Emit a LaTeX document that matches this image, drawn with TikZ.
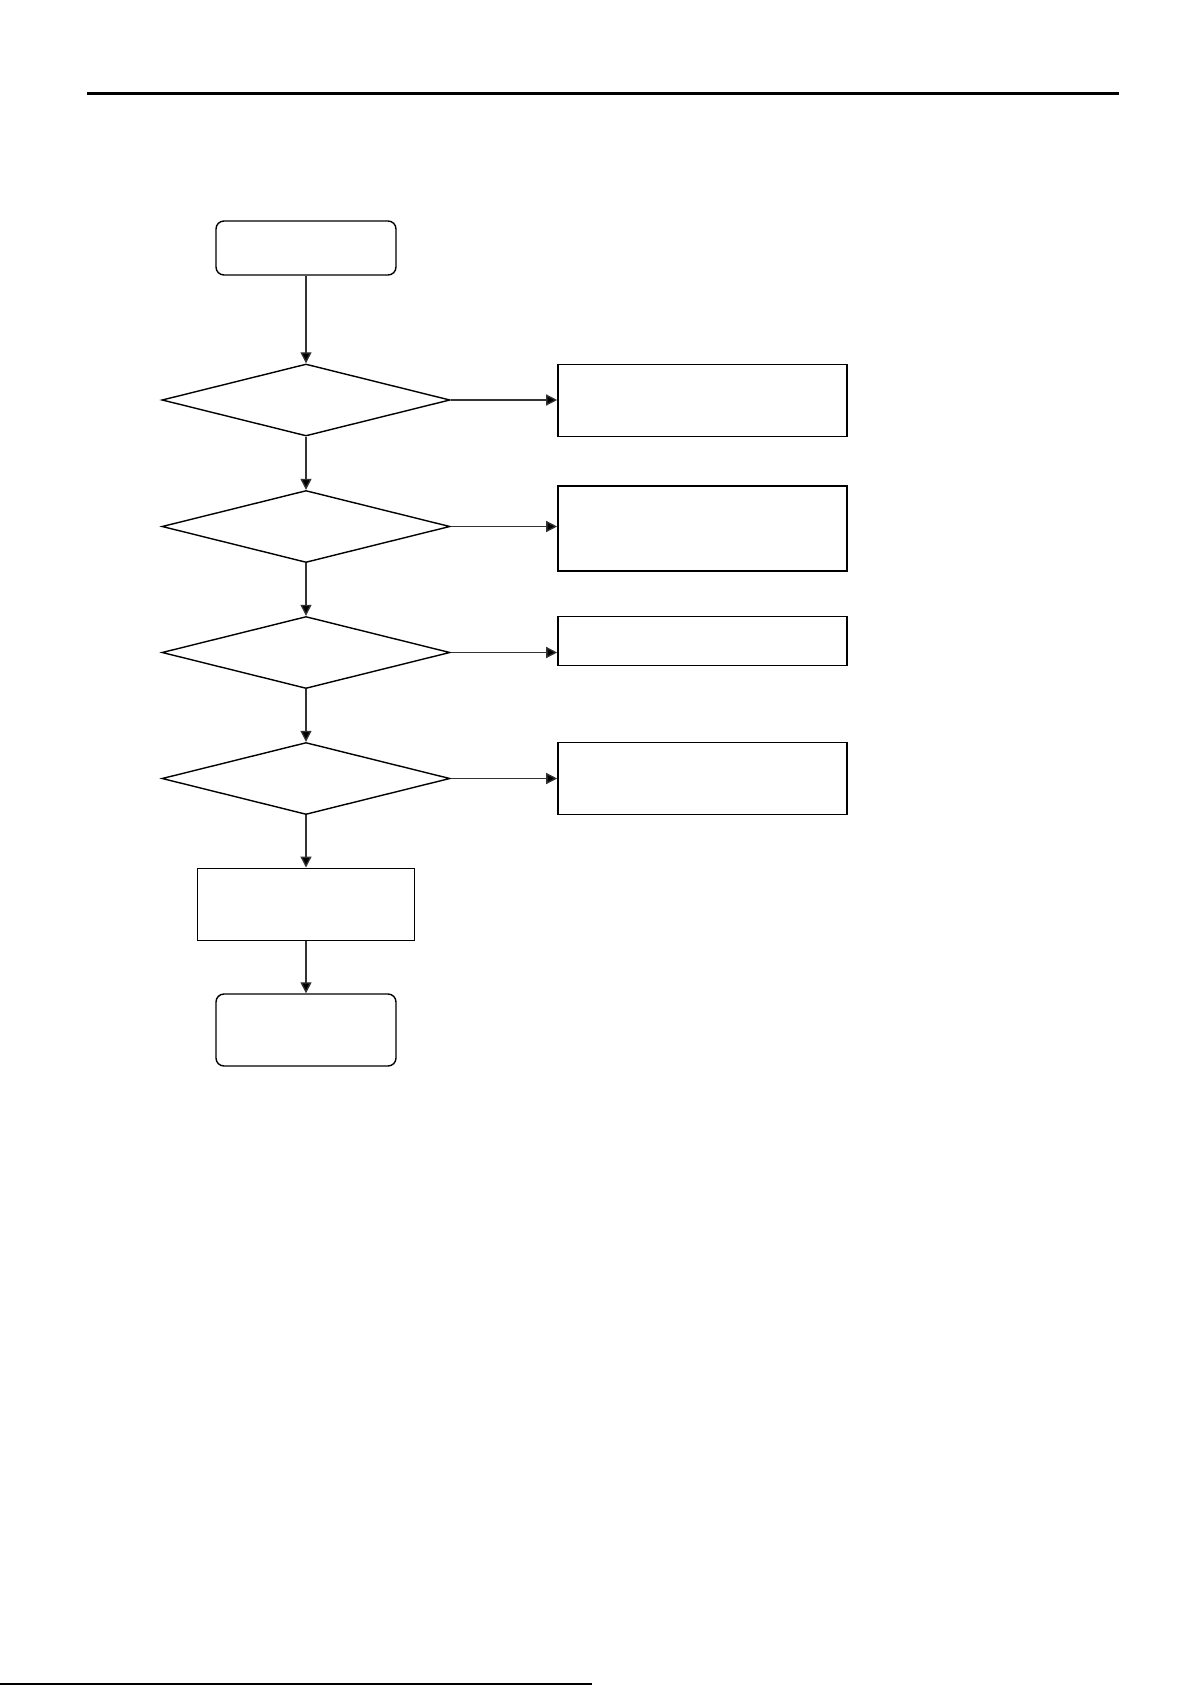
\documentclass[tikz,border=0pt]{standalone}
\usetikzlibrary{shapes.geometric,arrows.meta}
\begin{document}
\begin{tikzpicture}[x=1pt,y=-1pt,
  term/.style={draw=black,line width=1.4pt,rounded corners=8pt,minimum width=180pt,minimum height=54pt,inner sep=0pt},
  procbox/.style={draw=black,line width=1.6pt,minimum width=289pt,inner sep=0pt},
  decision/.style={draw=black,line width=1.4pt,shape=diamond,aspect=4,minimum width=288pt,minimum height=72pt,inner sep=0pt},
  conn/.style={draw=black!80,line width=1.3pt,-{Triangle[length=11pt,width=11pt,fill=black]}}]
\useasboundingbox (0,0) rectangle (1191,1685);
\fill[white] (0,0) rectangle (1191,1685);
\coordinate (ruleL) at (87,93.5);
\coordinate (ruleR) at (1119,93.5);
\draw[line width=3pt] (ruleL) -- (ruleR);
\coordinate (botL) at (0,1683.5);
\coordinate (botR) at (592,1683.5);
\draw[line width=2pt] (botL) -- (botR);

\node[term] (start) at (306,248) {};
\node[decision] (d1) at (306,400) {};
\node[decision] (d2) at (306,526.5) {};
\node[decision] (d3) at (306,652.5) {};
\node[decision] (d4) at (306,778.5) {};
\node[procbox,minimum height=72pt] (a) at (702.5,400.3) {};
\node[procbox,minimum height=85pt] (b) at (702.5,528.3) {};
\node[procbox,minimum height=49pt] (c) at (702.5,641) {};
\node[procbox,minimum height=72pt] (d) at (702.5,778.3) {};
\node[draw=black,line width=1.6pt,minimum width=217pt,minimum height=72pt,inner sep=0pt] (e) at (306,904.3) {};
\node[term,minimum height=72pt] (end) at (306,1030) {};

\draw[conn] (start) -- (d1.north);
\draw[conn] (d1.south) -- (d2.north);
\draw[conn] (d2.south) -- (d3.north);
\draw[conn] (d3.south) -- (d4.north);
\draw[conn] (d4.south) -- (e.north);
\draw[conn] (e.south) -- (end.north);
\draw[conn] (d1.east) -- (a.west |- d1.east);
\draw[conn] (d2.east) -- (b.west |- d2.east);
\draw[conn] (d3.east) -- (c.west |- d3.east);
\draw[conn] (d4.east) -- (d.west |- d4.east);
\end{tikzpicture}
\end{document}
